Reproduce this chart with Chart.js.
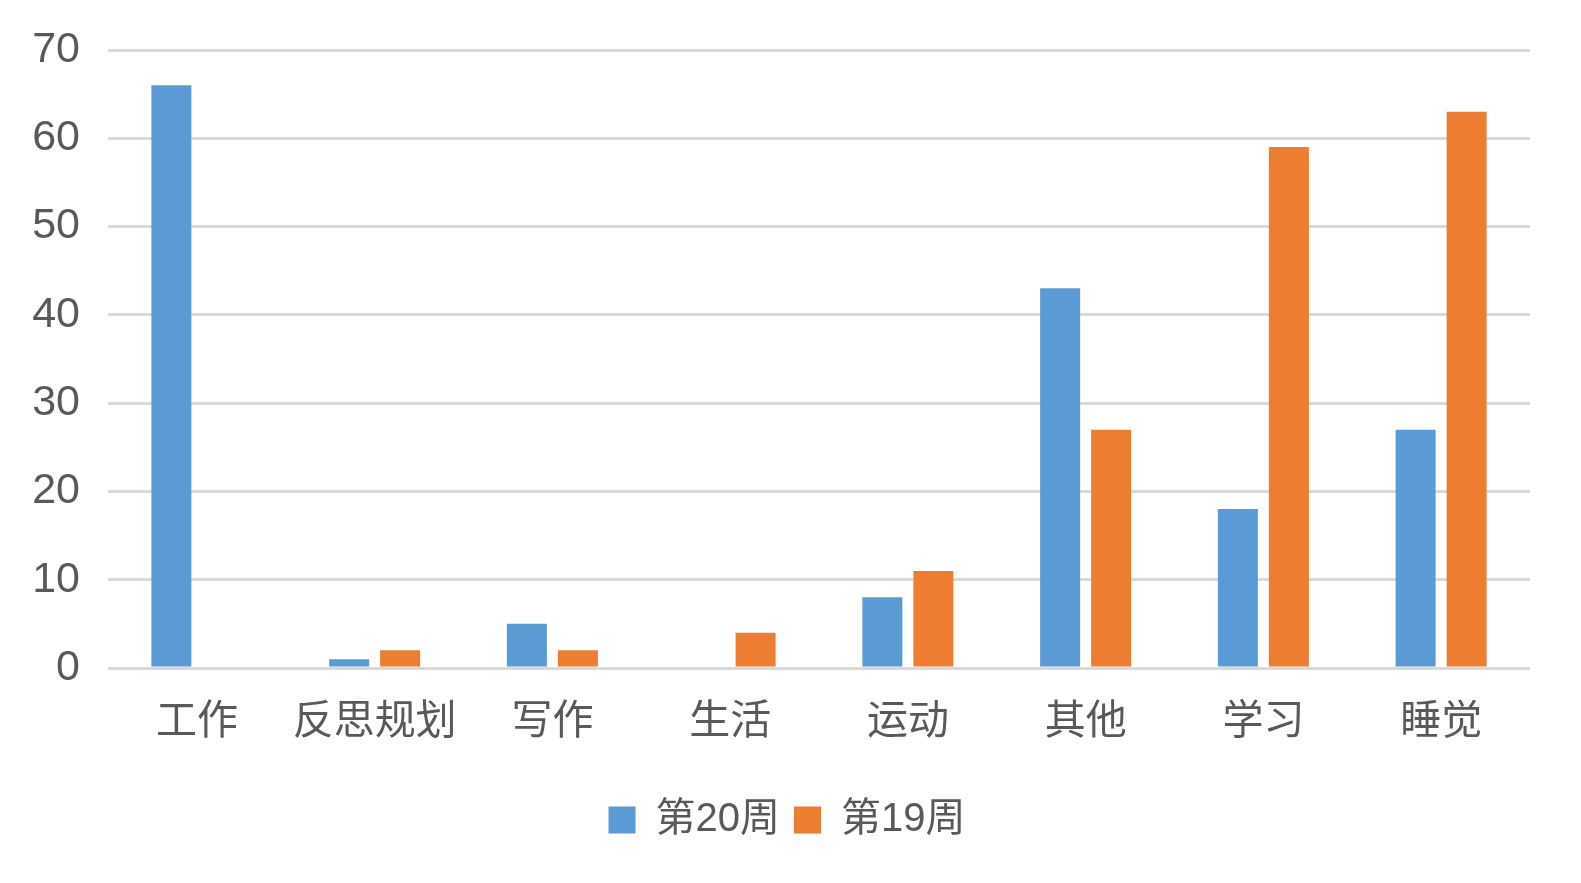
<!DOCTYPE html>
<html>
<head>
<meta charset="utf-8">
<script src="https://cdn.jsdelivr.net/npm/chart.js@4"></script>
<style>
  html, body { margin: 0; padding: 0; background: #ffffff; }
  #wrap { width: 1581px; height: 883px; }
</style>
</head>
<body>
<div id="wrap"><canvas id="myChart" width="1581" height="883"></canvas></div>
<script>
// categories and the two weeks
var categories = ['工作', '反思规划', '写作', '生活', '运动', '其他', '学习', '睡觉'];
var week20 = [66, 1, 5, 0, 8, 43, 18, 27];
var week19 = [0, 2, 2, 4, 11, 27, 59, 63];
var yTicks = [0, 10, 20, 30, 40, 50, 60, 70];

var fontFamily = "'Liberation Sans', 'Noto Sans CJK SC', sans-serif";
var textColor = '#595959';

// nudge the legend a bit right, it is not centred on the canvas in the original
var legendShift = {
    id: 'legendShift',
    afterLayout: function(chart) {
        chart.legend.left += 22;
        chart.legend.right += 22;
    }
};

var ctx = document.getElementById('myChart').getContext('2d');

var myChart = new Chart(ctx, {
    type: 'bar',
    data: {
        labels: categories,
        datasets: [{
            label: '第20周',
            data: week20,
            backgroundColor: '#5B9BD5',
            borderWidth: 0
        }, {
            label: '第19周',
            data: week19,
            backgroundColor: '#ED7D31',
            borderWidth: 0
        }]
    },
    plugins: [legendShift],
    options: {
        responsive: false,
        animation: false,
        layout: {
            padding: { top: 50, right: 51, bottom: 33, left: 0 }
        },
        datasets: {
            bar: {
                categoryPercentage: 0.574,
                barPercentage: 0.784
            }
        },
        scales: {
            y: {
                min: 0,
                max: 70,
                afterBuildTicks: function(scale) {
                    scale.ticks = yTicks.map(function(v) { return { value: v }; });
                },
                afterFit: function(scale) {
                    scale.width = 108;
                    // let the layout padding decide where the plot starts
                    scale.paddingTop = 0;
                    scale.paddingBottom = 0;
                },
                border: { display: false },
                grid: {
                    color: '#D9D9D9',
                    lineWidth: 3,
                    drawTicks: false
                },
                ticks: {
                    color: textColor,
                    padding: 28,
                    font: { family: fontFamily, size: 43 }
                }
            },
            x: {
                afterFit: function(scale) {
                    scale.height = 118;
                },
                border: { display: false },
                grid: { display: false, drawTicks: false },
                ticks: {
                    color: textColor,
                    padding: 30,
                    maxRotation: 0,
                    font: { family: fontFamily, size: 41 }
                }
            }
        },
        plugins: {
            legend: {
                position: 'bottom',
                labels: {
                    color: textColor,
                    boxWidth: 27,
                    boxHeight: 27,
                    padding: 14,
                    font: { family: fontFamily, size: 40 }
                }
            },
            tooltip: { enabled: false }
        }
    }
});
</script>
</body>
</html>
